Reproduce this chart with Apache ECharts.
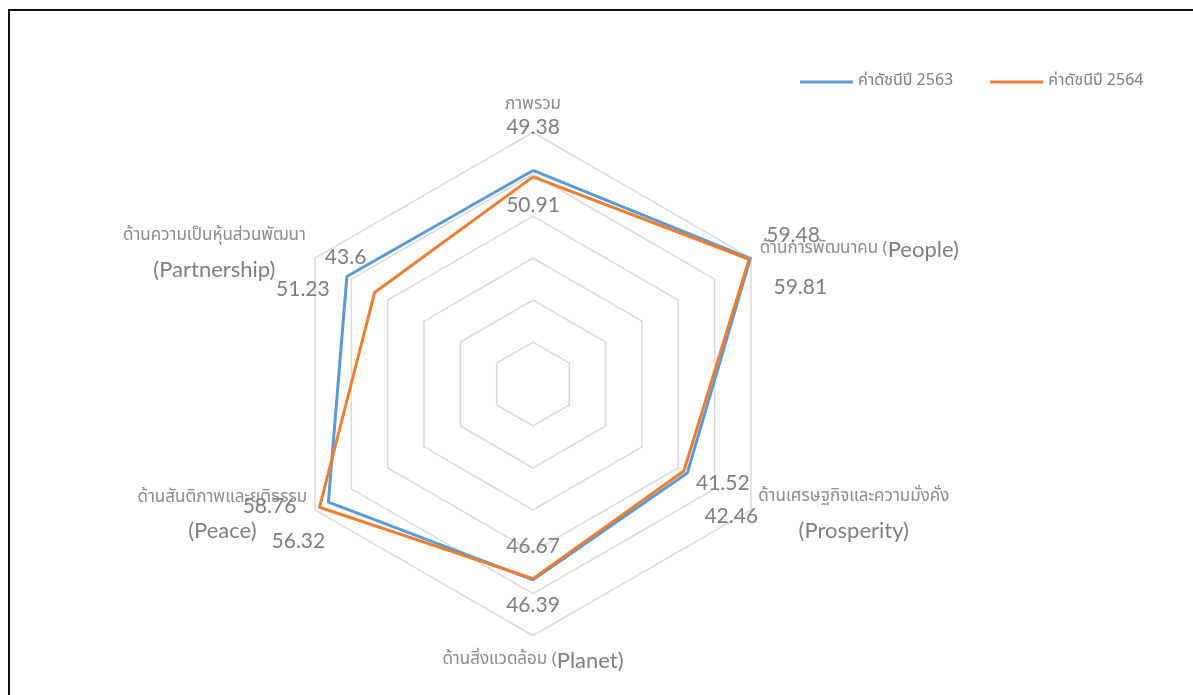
<!DOCTYPE html>
<html>
<head>
<meta charset="utf-8">
<script src="https://cdn.jsdelivr.net/npm/echarts@6/dist/echarts.min.js"></script>
<style>
html,body{margin:0;padding:0;background:#fff;}
#chart{width:1193px;height:695px;}
#frame{position:absolute;left:8px;top:9px;width:1200px;height:700px;border:2px solid #111;box-sizing:border-box;pointer-events:none;}
</style>
</head>
<body>
<div id="chart"></div>
<div id="frame"></div>
<script>
// Indicators in counter-clockwise order starting from the top
var indicatorKeys = ['overall', 'partnership', 'peace', 'planet', 'prosperity', 'people'];
var indicatorThai = ['ภาพรวม', 'ด้านความเป็นหุ้นส่วนพัฒนา', 'ด้านสันติภาพและยุติธรรม', 'ด้านสิ่งแวดล้อม (', 'ด้านเศรษฐกิจและความมั่งคั่ง', 'ด้านการพัฒนาคน ('];
var indicatorEng = ['', '(Partnership)', '(Peace)', 'Planet)', '(Prosperity)', 'People)'];
var seriesNames = ['ค่าดัชนีปี 2563', 'ค่าดัชนีปี 2564'];
var values2563 = [50.91, 51.23, 56.32, 46.67, 42.46, 59.81];
var values2564 = [49.38, 43.6, 58.76, 46.39, 41.52, 59.48];
var axisMin = 0, axisMax = 60, axisSplits = 6;

// label offsets (px) from each vertex, per series, same order as indicators
var labelOffsets = [
  [[0, 35], [-44, 13], [-30, 39], [0, -34], [44, 43], [50, 29]],
  [[0, -50], [-29, -35], [-50, -1], [0, 27], [39, 12], [44, -24]]
];

var numFont = 'Lato, "Open Sans", sans-serif';
var thaiFont = '"Noto Sans Thai", "Noto Sans", "DejaVu Sans", sans-serif';
var numColor = '#7f7f7f';
var nameColor = '#8c8c8c';
var thaiSize = 17, engSize = 22;

function makeRich(s) {
  var rich = {};
  labelOffsets[s].forEach(function (o, i) {
    var dx = o[0], dy = o[1];
    rich['p' + i] = {
      fontFamily: numFont, fontSize: 21, color: numColor,
      padding: [dy > 0 ? 2 * dy : 0, dx < 0 ? -2 * dx : 0, dy < 0 ? -2 * dy : 0, dx > 0 ? 2 * dx : 0]
    };
  });
  return rich;
}
function makeFormatter(vals) {
  return function (p) {
    var i = vals.indexOf(p.value);
    return '{p' + i + '|' + p.value + '}';
  };
}

var nameLayouts = [
  {gap: 15, style: {}},
  {gap: 10, style: {align: 'right'}, w: 184},
  {gap: 10, style: {align: 'right'}, w: 168},
  {gap: 13, style: {}},
  {gap: 9, style: {align: 'left'}, w: 190},
  {gap: 10, style: {align: 'left', padding: [0, 0, 7, 0]}}
];

var indicators = indicatorKeys.map(function (k, i) {
  var L = nameLayouts[i];
  var name;
  if (L.w) {
    name = '{t' + i + '|' + indicatorThai[i] + '}\n{e' + i + '|' + indicatorEng[i] + '}';
  } else if (indicatorEng[i]) {
    name = '{t|' + indicatorThai[i] + '}{e|' + indicatorEng[i] + '}';
  } else {
    name = '{t|' + indicatorThai[i] + '}';
  }
  return {name: name, min: axisMin, max: axisMax, nameGap: L.gap, nameTextStyle: L.style};
});

var nameRich = {
  t: {fontFamily: thaiFont, fontSize: thaiSize, color: nameColor, lineHeight: 24},
  e: {fontFamily: numFont, fontSize: engSize, color: numColor, lineHeight: 24}
};
nameLayouts.forEach(function (L, i) {
  if (L.w) {
    nameRich['t' + i] = {fontFamily: thaiFont, fontSize: thaiSize, color: nameColor, lineHeight: 33, width: L.w, align: 'center'};
    nameRich['e' + i] = {fontFamily: numFont, fontSize: engSize, color: numColor, lineHeight: 33, width: L.w, align: 'center'};
  }
});

var colors = ['#5b9bd5', '#ed7d31'];
var allValues = [values2563, values2564];

var chart = echarts.init(document.getElementById('chart'));
chart.setOption({
  animation: false,
  color: colors,
  legend: {
    data: seriesNames,
    left: 800,
    top: 74,
    padding: 0,
    icon: 'rect',
    itemWidth: 53,
    itemHeight: 3,
    itemGap: 37,
    textStyle: {fontFamily: thaiFont, fontSize: 16, color: numColor}
  },
  radar: {
    center: [533, 384],
    radius: 251.7,
    startAngle: 90,
    splitNumber: axisSplits,
    shape: 'polygon',
    indicator: indicators,
    axisName: {rich: nameRich, color: nameColor},
    axisLine: {show: false},
    axisTick: {show: false},
    axisLabel: {show: false},
    splitArea: {show: false},
    splitLine: {lineStyle: {color: '#d9d9d9', width: 1.5}}
  },
  series: allValues.map(function (vals, s) {
    return {
      type: 'radar',
      name: seriesNames[s],
      symbol: 'circle',
      symbolSize: 1,
      z: 2 + s,
      lineStyle: {color: colors[s], width: 3},
      itemStyle: {color: colors[s]},
      label: {
        show: true,
        position: 'inside',
        formatter: makeFormatter(vals),
        rich: makeRich(s)
      },
      data: [{value: vals, name: seriesNames[s]}]
    };
  })
});
</script>
</body>
</html>
